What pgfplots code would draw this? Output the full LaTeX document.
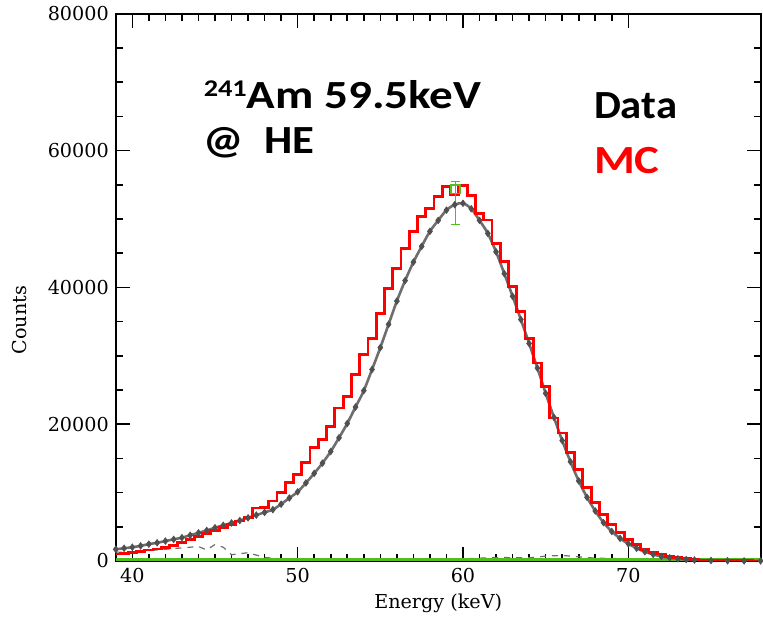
\documentclass[border=0pt]{standalone}
\usepackage{fontspec}
\setmainfont{DejaVu Serif}
\newfontfamily\calib{Carlito}
\usepackage{graphicx}
\usepackage{pgfplots}
\usepackage{pgfplotstable}
\pgfplotsset{compat=1.18}
\definecolor{mcred}{RGB}{255,0,0}
\definecolor{fitgray}{RGB}{110,110,110}
\definecolor{ptgray}{RGB}{80,80,80}
\definecolor{zgreen}{RGB}{80,190,30}

\pgfplotstableread{
E C
39.0 1000
39.5 1100
40.0 1250
40.5 1400
41.0 1600
41.5 1750
42.0 1950
42.5 2300
43.0 2700
43.5 3150
44.0 3600
44.5 4000
45.0 4450
45.5 4900
46.0 5350
46.5 5850
47.0 6400
47.5 7750
48.0 7800
48.5 8750
49.0 9965
49.5 11424
50.0 12650
50.5 14342
51.0 16530
51.5 17756
52.0 19697
52.5 22367
53.0 24074
53.5 27240
54.0 30158
54.5 32580
55.0 36227
55.5 39875
56.0 42793
56.5 45711
57.0 48147
57.5 50316
58.0 51547
58.5 53254
59.0 54713
59.5 53502
60.0 54858
60.5 53400
61.0 50817
61.5 49854
62.0 46440
62.5 43770
63.0 40122
63.5 36475
64.0 32580
64.5 28932
65.0 25533
65.5 20907
66.0 18719
66.5 15801
67.0 13379
67.5 10695
68.0 8506
68.5 6813
69.0 5354
69.5 4129
70.0 3166
70.5 2437
71.0 1707
71.5 1211
72.0 1000
72.5 700
73.0 450
73.5 300
74.0 200
74.5 120
75.0 80
75.5 50
76.0 30
77.0 10
78.0 0
}\mctable

\pgfplotstableread{
E C
39.0 1700
39.5 1850
40.0 2000
40.5 2200
41.0 2450
41.5 2650
42.0 2900
42.5 3150
43.0 3400
43.5 3750
44.0 4100
44.5 4450
45.0 4850
45.5 5200
46.0 5550
46.5 5900
47.0 6300
47.5 6700
48.0 7100
48.5 7500
49.0 8300
49.5 9200
50.0 10100
50.5 11400
51.0 12800
51.5 14300
52.0 16000
52.5 18000
53.0 20100
53.5 22500
54.0 24900
54.5 28000
55.0 31200
55.5 34600
56.0 38000
56.5 41000
57.0 43700
57.5 46000
58.0 48200
58.5 49800
59.0 51300
59.5 52100
60.0 52300
60.5 51500
61.0 49800
61.5 47900
62.0 45200
62.5 42000
63.0 38700
63.5 35300
64.0 31800
64.5 28200
65.0 24500
65.5 21000
66.0 17600
66.5 14500
67.0 11700
67.5 9300
68.0 7300
68.5 5600
69.0 4300
69.5 3300
70.0 2500
70.5 1850
71.0 1350
71.5 950
72.0 650
72.5 450
73.0 300
73.5 200
74.0 130
75.0 60
76.0 20
77.0 0
78.0 0
}\datatable

\pgfplotstableread{
E C
39.0 1300
40.0 1200
41.0 1500
42.0 1700
43.0 1900
44.0 2100
44.5 1600
45.0 2400
45.5 2000
46.0 900
47.0 1200
48.0 500
49.0 300
50.0 200
55.0 200
60.0 300
62.0 500
64.0 450
65.0 700
66.0 800
67.0 600
68.0 400
70.0 300
72.0 300
74.0 300
76.0 300
78.0 300
}\noisetable

\begin{document}
\begin{tikzpicture}
\begin{axis}[
  scale only axis,
  width=323pt, height=274pt,
  xmin=39, xmax=78,
  ymin=0, ymax=80000,
  xtick={40,50,60,70},
  minor x tick num=9,
  ytick={0,20000,40000,60000,80000},
  minor y tick num=3,
  scaled y ticks=false,
  tick align=inside,
  major tick length=7pt,
  minor tick length=3.5pt,
  every tick/.style={black, line width=0.8pt},
  axis line style={line width=1pt},
  /pgf/number format/assume math mode=true,
  yticklabel style={/pgf/number format/fixed, /pgf/number format/set thousands separator={}},
  tick label style={font=\fontsize{9.6}{11}\selectfont},
  label style={font=\fontsize{9.6}{11}\selectfont},
  xlabel={Energy (keV)},
  ylabel={Counts},
  xlabel style={at={(rel axis cs:0.5,0)}, anchor=center, yshift=-21.5pt},
  ylabel style={at={(rel axis cs:0,0.44)}, anchor=center, yshift=48pt},
]
% noisy dashed trace near zero
\addplot[fitgray, dashed, line width=0.6pt] table[x=E,y=C] {\noisetable};
% zero line
\addplot[zgreen, line width=1.6pt] coordinates {(39,250) (78,250)};
% fit curve
\addplot[fitgray, line width=1.3pt, smooth] table[x=E,y=C] {\datatable};
% data points
\addplot[only marks, mark=diamond*, mark size=1.6pt, ptgray] table[x=E,y=C] {\datatable};
% MC histogram
\addplot[mcred, line width=1.4pt, const plot mark mid] table[x=E,y=C] {\mctable};
% green marker at peak
\addplot[zgreen, mark=square, mark size=2.2pt, line width=0.7pt,
  error bars/.cd, y dir=both, y explicit, error bar style={zgreen, line width=0.6pt}]
  coordinates {(59.55,54350) += (0,1100) -= (0,5200)};

\node[anchor=base west, inner sep=0, font=\calib\bfseries\fontsize{20}{24}\selectfont]
  at (axis cs:44.3,66140) {\scalebox{1.18}[1]{\raisebox{6pt}{\fontsize{12}{12}\selectfont 241}Am 59.5keV}};
\node[anchor=base west, inner sep=0, font=\calib\bfseries\fontsize{20}{24}\selectfont]
  at (axis cs:44.3,59570) {\scalebox{1.12}[1]{@\ \ HE}};
\node[anchor=base west, inner sep=0, font=\calib\bfseries\fontsize{20}{24}\selectfont]
  at (axis cs:67.9,64680) {\scalebox{1.07}[1]{Data}};
\node[anchor=base west, inner sep=0, font=\calib\bfseries\fontsize{20}{24}\selectfont, text=mcred]
  at (axis cs:67.9,56650) {\scalebox{1.17}[1]{MC}};
\end{axis}
\path[use as bounding box] ([xshift=-58pt,yshift=-27pt]current axis.south west) rectangle ([xshift=0.5pt,yshift=5.85pt]current axis.north east);
\end{tikzpicture}
\end{document}
